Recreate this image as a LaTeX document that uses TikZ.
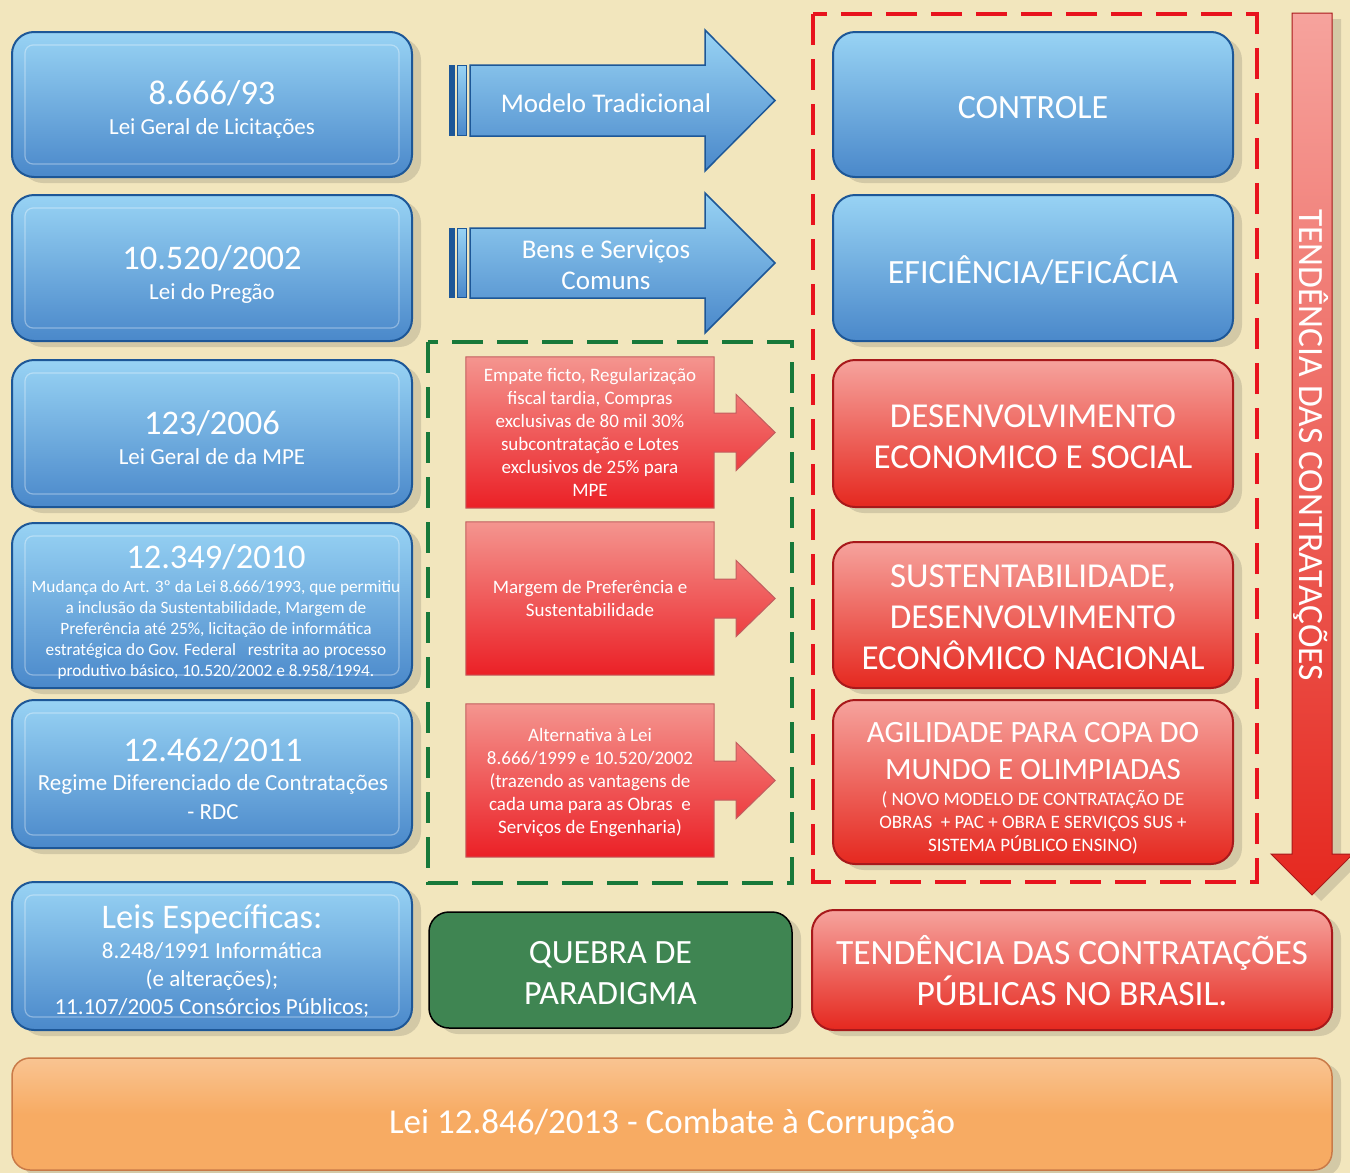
\documentclass[tikz,border=0pt]{standalone}
\usepackage{fontspec}
\setmainfont{Carlito}
\usepackage{tikz}
\usetikzlibrary{shadows}
\usetikzlibrary{backgrounds}
\definecolor{cream}{HTML}{F2E6BD}
\definecolor{bluetop}{HTML}{98D3F4}
\definecolor{bluebot}{HTML}{4A88CA}
\definecolor{blueedge}{HTML}{1D5797}
\definecolor{redtop}{HTML}{F6A39D}
\definecolor{redbot}{HTML}{E5281F}
\definecolor{rededge}{HTML}{A8191B}
\definecolor{calltop}{HTML}{F4958F}
\definecolor{callbot}{HTML}{EB2026}
\definecolor{greenbox}{HTML}{3F8552}
\definecolor{orangebox}{HTML}{F7AB63}
\definecolor{orangeedge}{HTML}{C97A48}
\definecolor{dashgreen}{HTML}{18793A}
\definecolor{dashred}{HTML}{E8131D}
\tikzset{
	shadowstyle/.style={drop shadow={shadow xshift=9pt,shadow yshift=-6pt,opacity=.16,fill=black!80}},
	glossstyle/.style={rectangle,rounded corners=22pt,line width=2pt,inner sep=0pt,minimum width=400pt,shadowstyle},
	lawstyle/.style={glossstyle,draw=blueedge,top color=bluetop,bottom color=bluebot,
		path picture={\draw[white,opacity=.35,line width=1.2pt,rounded corners=8pt] ([shift={(13pt,-13pt)}]path picture bounding box.north west) rectangle ([shift={(-13pt,13pt)}]path picture bounding box.south east);}},
	bluestyle/.style={glossstyle,draw=blueedge,top color=bluetop,bottom color=bluebot},
	redstyle/.style={glossstyle,draw=rededge,top color=redtop,bottom color=redbot},
	boxtext/.style={text=white,align=center,inner sep=0pt,text depth=0pt},
	calloutstyle/.style={rectangle,minimum width=248pt,align=center,text=white,inner sep=0pt,text depth=0pt,font=\fontsize{19}{23}\selectfont},
	calloutshade/.style={top color=calltop,bottom color=callbot,draw=rededge!70,line width=1pt},
	arrowshade/.style={top color=bluetop,bottom color=bluebot,draw=blueedge,line width=1.5pt},
	arrowtext/.style={text=white,align=center,font=\fontsize{27}{31}\selectfont},
	dashstyle/.style={line width=4.5pt,dash pattern=on 31pt off 14pt}
}
\begin{document}
\begin{tikzpicture}[x=1pt,y=-1pt]
	\useasboundingbox (0,0) rectangle (1350,1173);
	\begin{scope}[on background layer]
		\fill[cream] (0,0) rectangle (1350,1173);
	\end{scope}
	% left column
	\node[lawstyle,minimum height=145pt] (lei8666) at (212,104.5) {};
	\node[lawstyle,minimum height=146pt] (lei10520) at (212,268) {};
	\node[lawstyle,minimum height=147pt] (lei123) at (212,433.5) {};
	\node[lawstyle,minimum height=165pt] (lei12349) at (212,605.5) {};
	\node[lawstyle,minimum height=148pt] (lei12462) at (212,774) {};
	\node[lawstyle,minimum height=148pt] (leisesp) at (212,956) {};
	\node[boxtext,font=\fontsize{23}{30}\selectfont] (lei8666txt) at (212,108) {{\fontsize{34.5}{34}\selectfont 8.666/93}\\Lei Geral de Licitações};
	\node[boxtext,font=\fontsize{23}{30}\selectfont] (lei10520txt) at (212,272.5) {{\fontsize{34.5}{34}\selectfont 10.520/2002}\\Lei do Pregão};
	\node[boxtext,font=\fontsize{23}{30}\selectfont] (lei123txt) at (212,437.5) {{\fontsize{34.5}{34}\selectfont 123/2006}\\Lei Geral de da MPE};
	\node[boxtext,font=\fontsize{17.3}{21}\selectfont] (lei12349txt) at (216,610.5) {{\fontsize{34.5}{34}\selectfont 12.349/2010}\\[3pt]Mudança do Art. 3º da Lei 8.666/1993, que permitiu\\a inclusão da Sustentabilidade, Margem de\\Preferência até 25\%, licitação de informática\\estratégica do Gov. Federal~~ restrita ao processo\\produtivo básico, 10.520/2002 e 8.958/1994.};
	\node[boxtext,font=\fontsize{23}{29}\selectfont] (lei12462txt) at (213,779) {{\fontsize{34.5}{34}\selectfont 12.462/2011}\\Regime Diferenciado de Contratações\\- RDC};
	\node[boxtext,font=\fontsize{23}{28}\selectfont] (leisesptxt) at (212,960) {{\fontsize{34.5}{34}\selectfont Leis Específicas:}\\[2pt]8.248/1991 Informática\\(e alterações);\\11.107/2005 Consórcios Públicos;};
	% blue arrows
	\fill[blueedge] (449,65) rectangle (455,136);
	\draw[arrowshade,line width=1pt] (457.5,65.5) rectangle (466.5,135.5);
	\shade[arrowshade] (470,65) -- (705,65) -- (705,30) -- (775,100.5) -- (705,171) -- (705,136) -- (470,136) -- cycle;
	\fill[blueedge] (449,228) rectangle (455,298);
	\draw[arrowshade,line width=1pt] (457.5,228.5) rectangle (466.5,297.5);
	\shade[arrowshade] (470,228) -- (705,228) -- (705,193) -- (775,263) -- (705,333) -- (705,298) -- (470,298) -- cycle;
	\node[arrowtext] (tradicional) at (606,103) {Modelo Tradicional};
	\node[arrowtext] (bens) at (606,264.5) {Bens e Serviços\\Comuns};
	% red callouts
	\node[calloutstyle,minimum height=151pt] (empate) at (590,432.5) {Empate ficto, Regularização\\fiscal tardia, Compras\\exclusivas de 80 mil 30\%\\subcontratação e Lotes\\exclusivos de 25\% para\\MPE};
	\node[calloutstyle,minimum height=153pt] (margem) at (590,598.5) {Margem de Preferência e\\Sustentabilidade};
	\node[calloutstyle,minimum height=153pt] (alternativa) at (590,780.5) {Alternativa à Lei\\8.666/1999 e 10.520/2002\\(trazendo as vantagens de\\cada uma para as Obras~ e\\Serviços de Engenharia)};
	\begin{scope}[on background layer]
		\shade[calloutshade] (empate.north west) -- (empate.north east) -- ([yshift=19.5pt]empate.east) -- ++(22pt,0pt) -- ++(0pt,18.5pt) -- ([xshift=61pt]empate.east) -- ++(-39pt,-38pt) -- ++(0pt,18.5pt) -- ++(-22pt,0pt) -- (empate.south east) -- (empate.south west) -- cycle;
		\shade[calloutshade] (margem.north west) -- (margem.north east) -- ([yshift=19.5pt]margem.east) -- ++(22pt,0pt) -- ++(0pt,18.5pt) -- ([xshift=61pt]margem.east) -- ++(-39pt,-38pt) -- ++(0pt,18.5pt) -- ++(-22pt,0pt) -- (margem.south east) -- (margem.south west) -- cycle;
		\shade[calloutshade] (alternativa.north west) -- (alternativa.north east) -- ([yshift=19.5pt]alternativa.east) -- ++(22pt,0pt) -- ++(0pt,18.5pt) -- ([xshift=61pt]alternativa.east) -- ++(-39pt,-38pt) -- ++(0pt,18.5pt) -- ++(-22pt,0pt) -- (alternativa.south east) -- (alternativa.south west) -- cycle;
	\end{scope}
	\draw[dashstyle,dashgreen] (428,342) rectangle (792,883);
	% right column
	\node[bluestyle,minimum height=145pt] (controle) at (1033,104.5) {};
	\node[bluestyle,minimum height=146pt] (eficiencia) at (1033,268) {};
	\node[redstyle,minimum height=147pt] (desenv) at (1033,433.5) {};
	\node[redstyle,minimum height=146pt] (sustent) at (1033,615) {};
	\node[redstyle,minimum height=164pt] (agilidade) at (1033,782) {};
	\node[boxtext,font=\fontsize{34}{41}\selectfont] (controletxt) at (1033,107.5) {CONTROLE};
	\node[boxtext,font=\fontsize{34}{41}\selectfont] (eficienciatxt) at (1033,269.5) {EFICIÊNCIA/EFICÁCIA};
	\node[boxtext,font=\fontsize{35}{41}\selectfont] (desenvtxt) at (1033,437) {DESENVOLVIMENTO\\ECONOMICO E SOCIAL};
	\node[boxtext,font=\fontsize{35}{41}\selectfont] (sustenttxt) at (1033,617.5) {SUSTENTABILIDADE,\\DESENVOLVIMENTO\\ECONÔMICO NACIONAL};
	\node[boxtext,font=\fontsize{19}{23}\selectfont] (agilidadetxt) at (1033,787) {{\fontsize{31}{31}\selectfont AGILIDADE PARA COPA DO}\\[14pt]{\fontsize{31}{31}\selectfont MUNDO E OLIMPIADAS}\\[3pt]( NOVO MODELO DE CONTRATAÇÃO DE\\OBRAS~ + PAC + OBRA E SERVIÇOS SUS +\\SISTEMA PÚBLICO ENSINO)};
	\draw[dashstyle,dashred] (813,14) rectangle (1257,882);
	% trend arrow
	\shade[top color=redtop,bottom color=redbot,draw=rededge,line width=1pt,shadowstyle] (1292,13) -- (1332,13) -- (1332,854) -- (1353,854) -- (1312,895) -- (1271,854) -- (1292,854) -- cycle;
	\node[rotate=-90,text=white,font=\fontsize{35.5}{35}\selectfont] (tendvert) at (1311,445) {TENDÊNCIA DAS CONTRATAÇÕES};
	% bottom row
	\node[glossstyle,rounded corners=20pt,draw=black,line width=1.5pt,fill=greenbox,minimum width=363pt,minimum height=116pt] (quebra) at (610.5,970) {};
	\node[redstyle,minimum width=520pt,minimum height=120pt] (tendencia) at (1072,970) {};
	\node[glossstyle,rounded corners=18pt,line width=1.5pt,draw=orangeedge,top color=orangebox!70!white,bottom color=orangebox,middle color=orangebox,minimum width=1320pt,minimum height=112pt] (combate) at (672,1114) {};
	\node[boxtext,font=\fontsize{34}{41}\selectfont] (quebratxt) at (610.5,973) {QUEBRA DE\\PARADIGMA};
	\node[boxtext,font=\fontsize{35.5}{41}\selectfont] (tendenciatxt) at (1072,970) {TENDÊNCIA DAS CONTRATAÇÕES\\PÚBLICAS NO BRASIL.};
	\node[boxtext,font=\fontsize{35}{41}\selectfont] (combatetxt) at (672,1121) {Lei 12.846/2013 - Combate à Corrupção};
\end{tikzpicture}
\end{document}
